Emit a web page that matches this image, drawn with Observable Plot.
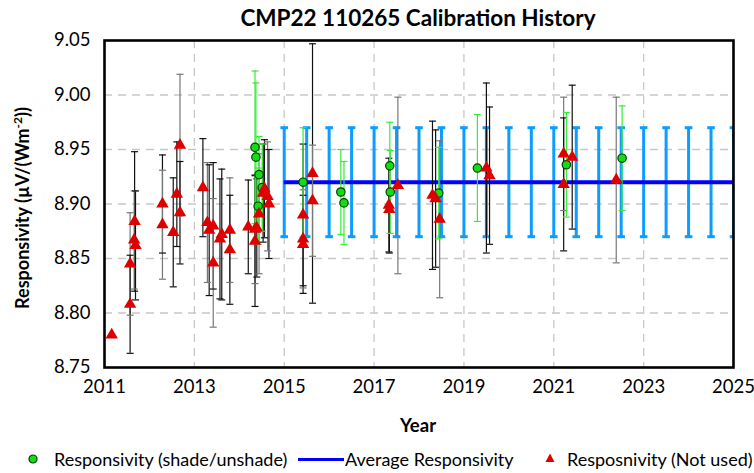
<!DOCTYPE html>
<html><head><meta charset="utf-8">
<script src="https://cdn.jsdelivr.net/npm/d3@7"></script>
<script src="https://cdn.jsdelivr.net/npm/@observablehq/plot@0.6"></script>
<style>
body{margin:0;background:#fff;font-family:Lato,"Open Sans",sans-serif;}
#wrap{position:relative;width:754px;height:473px;overflow:hidden;}
.t{position:absolute;white-space:nowrap;color:#000;line-height:20px;}
</style></head><body><div id="wrap"></div>
<script>
// Responsivity (shade/unshade) — used calibrations
const greenYear = [2014.35, 2014.37, 2014.44, 2014.51, 2014.42, 2015.42, 2016.26, 2016.33, 2017.35, 2017.36, 2018.44, 2019.30, 2021.28, 2022.52];
const greenVal  = [8.952, 8.943, 8.927, 8.915, 8.898, 8.920, 8.911, 8.901, 8.935, 8.911, 8.910, 8.933, 8.936, 8.942];
const greenErr  = [0.070, 0.068, 0.035, 0.040, 0.035, 0.050, 0.039, 0.038, 0.040, 0.038, 0.042, 0.049, 0.048, 0.048];

// Resposnivity (Not used)
const redYear = [2011.16, 2011.57, 2011.57, 2011.67, 2011.66, 2011.69, 2012.29, 2012.29, 2012.53, 2012.61, 2012.68, 2012.68,
  2013.19, 2013.29, 2013.33, 2013.42, 2013.42, 2013.57, 2013.61, 2013.79, 2013.79, 2014.20, 2014.35, 2014.35, 2014.39,
  2014.44, 2014.53, 2014.56, 2014.63, 2014.66, 2015.42, 2015.42, 2015.42, 2015.63, 2015.63, 2017.33, 2017.34, 2017.53,
  2018.30, 2018.37, 2018.46, 2019.50, 2019.57, 2021.22, 2021.22, 2021.41, 2022.39];
const redVal = [8.780, 8.845, 8.808, 8.884, 8.867, 8.862, 8.900, 8.881, 8.874, 8.909, 8.954, 8.892,
  8.915, 8.883, 8.876, 8.880, 8.846, 8.868, 8.872, 8.876, 8.858, 8.879, 8.877, 8.866, 8.878,
  8.891, 8.910, 8.914, 8.907, 8.900, 8.890, 8.868, 8.863, 8.928, 8.903, 8.899, 8.895, 8.917,
  8.908, 8.905, 8.886, 8.933, 8.926, 8.946, 8.918, 8.943, 8.922];
const redErr = [0, 0.047, 0.045, 0.064, 0.045, 0.050, 0.045, 0.050, 0.050, 0.048, 0.065, 0.047,
  0.045, 0.055, 0.060, 0.058, 0.059, 0.055, 0.060, 0.048, 0.050, 0.043, 0.050, 0.060, 0.045,
  0.055, 0.045, 0.045, 0.050, 0.050, 0.065, 0.045, 0.045, 0.119, 0.051, 0.043, 0.040, 0.081,
  0.068, 0.063, 0.072, 0.078, 0.063, 0.052, 0.061, 0.066, 0.076];

// Average Responsivity
const avgValue = 8.92;
const avgUnc = 0.05;
const avgStart = 2015;
const avgEnd = 2025;
const avgBarYears = [2015, 2015.5, 2016, 2016.5, 2017, 2017.5, 2018, 2018.5, 2019, 2019.5, 2020, 2020.5,
  2021, 2021.5, 2022, 2022.5, 2023, 2023.5, 2024, 2024.5, 2025];

// Axis ticks
const xTicks = [2011, 2013, 2015, 2017, 2019, 2021, 2023, 2025];
const yTicks = [8.75, 8.80, 8.85, 8.90, 8.95, 9.00, 9.05];

const green = greenYear.map((x, i) => ({x, y: greenVal[i], e: greenErr[i]}));
const red = redYear.map((x, i) => ({x, y: redVal[i], e: redErr[i], i}));
const redBars = red.filter(d => d.e > 0);
const avgBars = avgBarYears.map(x => ({x, y: avgValue, e: avgUnc}));

const capSymbol = {draw(ctx, size) { const w = Math.sqrt(size / Math.PI); ctx.moveTo(-w, 0); ctx.lineTo(w, 0); }};
const barColor = d => d.i % 3 === 1 ? "#777" : "#111";

const chart = Plot.plot({
  width: 754, height: 473,
  marginLeft: 104, marginRight: 21, marginTop: 40, marginBottom: 106,
  style: {fontSize: "18.5px", fontFamily: "Lato, 'Open Sans', sans-serif", color: "#000", background: "#fff"},
  x: {domain: [2011, 2025], ticks: xTicks, tickFormat: "d", tickSize: 0, tickPadding: 12, label: null},
  y: {domain: [8.75, 9.05], ticks: yTicks, tickFormat: d3.format(".2f"), tickSize: 0, tickPadding: 14, label: null},
  marks: [
    Plot.gridY(yTicks.slice(1, -1), {stroke: "#c8c8c8", strokeOpacity: 1, strokeWidth: 1.3, strokeDasharray: "8,6"}),
    Plot.gridX(xTicks.slice(1, -1), {stroke: "#c8c8c8", strokeOpacity: 1, strokeWidth: 1.3, strokeDasharray: "8,6"}),
    // average uncertainty bars
    Plot.ruleX(avgBars, {x: "x", y1: d => d.y - d.e, y2: d => d.y + d.e, stroke: "#0d9cff", strokeWidth: 3, clip: true}),
    Plot.dot(avgBars, {x: "x", y: d => d.y + d.e, symbol: capSymbol, r: 3.8, stroke: "#0d9cff", strokeWidth: 3, clip: true}),
    Plot.dot(avgBars, {x: "x", y: d => d.y - d.e, symbol: capSymbol, r: 3.8, stroke: "#0d9cff", strokeWidth: 3, clip: true}),
    // average line
    Plot.ruleY([avgValue], {x1: avgStart, x2: avgEnd, stroke: "#0000ff", strokeWidth: 4}),
    // not-used error bars
    Plot.ruleX(redBars, {x: "x", y1: d => d.y - d.e, y2: d => d.y + d.e, stroke: barColor, strokeWidth: 1.2}),
    Plot.dot(redBars, {x: "x", y: d => d.y + d.e, symbol: capSymbol, r: 3.5, stroke: barColor, strokeWidth: 1.2}),
    Plot.dot(redBars, {x: "x", y: d => d.y - d.e, symbol: capSymbol, r: 3.5, stroke: barColor, strokeWidth: 1.2}),
    // used error bars
    Plot.ruleX(green, {x: "x", y1: d => d.y - d.e, y2: d => d.y + d.e, stroke: "#33ee33", strokeWidth: 1.2}),
    Plot.dot(green, {x: "x", y: d => d.y + d.e, symbol: capSymbol, r: 3.5, stroke: "#33ee33", strokeWidth: 1.2}),
    Plot.dot(green, {x: "x", y: d => d.y - d.e, symbol: capSymbol, r: 3.5, stroke: "#33ee33", strokeWidth: 1.2}),
    // points
    Plot.dot(green, {x: "x", y: "y", r: 4.2, fill: "#11dd11", stroke: "#0a3a0a", strokeWidth: 1.2}),
    Plot.dot(red, {x: "x", y: "y", symbol: "triangle", r: 4.6, fill: "#dd0000"}),
    Plot.frame({stroke: "#000", strokeWidth: 2.6})
  ]
});
const wrap = document.getElementById("wrap");
wrap.appendChild(chart);

function addText(html, left, top, css) {
  const d = document.createElement("div");
  d.className = "t";
  d.innerHTML = html;
  d.style.left = left + "px";
  d.style.top = top + "px";
  if (css) Object.assign(d.style, css);
  wrap.appendChild(d);
  return d;
}
addText("CMP22 110265 Calibration History", 418, 18, {fontWeight: "bold", fontSize: "22.5px", transform: "translate(-50%,-50%)"});
addText("Year", 418, 425, {fontWeight: "bold", fontSize: "18.5px", transform: "translate(-50%,-50%)"});
addText("Responsivity (µV/(Wm<sup style='font-size:12px;line-height:0'>-2</sup>))", 22, 208, {fontWeight: "bold", fontSize: "18px", transform: "translate(-50%,-50%) rotate(-90deg)"});

// legend
addText("<svg width='12' height='12'><circle cx='6' cy='6' r='4' fill='#11dd11' stroke='#0a3a0a' stroke-width='1.2'/></svg>", 27, 453, {lineHeight: "12px"});
addText("Responsivity (shade/unshade)", 54, 449, {fontSize: "18px"});
addText("", 298, 457.5, {width: "46px", height: "3.5px", background: "#0000ff"});
addText("Average Responsivity", 345, 449, {fontSize: "18px"});
addText("<svg width='12' height='12'><path d='M6,1.5L10.5,10H1.5Z' fill='#dd0000'/></svg>", 544, 452, {lineHeight: "12px"});
addText("Resposnivity (Not used)", 567, 449, {fontSize: "18px"});
</script>
</body></html>
